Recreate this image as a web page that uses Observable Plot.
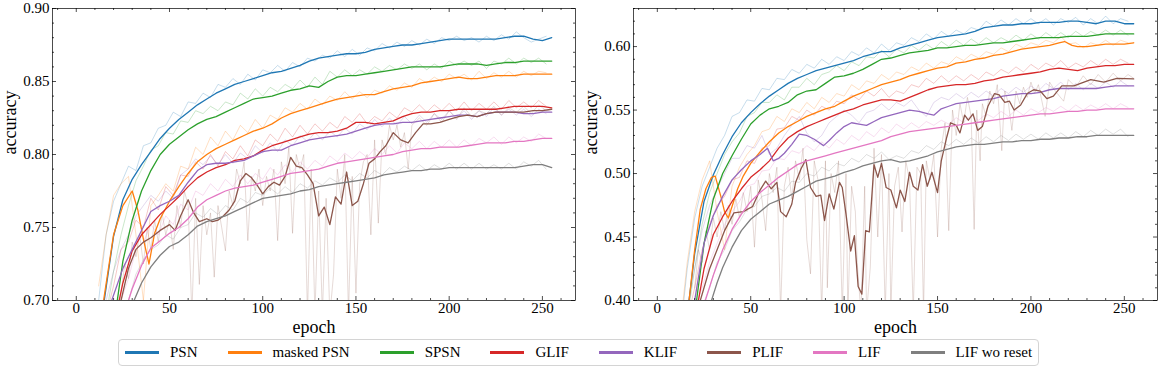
<!DOCTYPE html>
<html><head><meta charset="utf-8">
<script src="https://cdn.jsdelivr.net/npm/d3@7"></script>
<script src="https://cdn.jsdelivr.net/npm/@observablehq/plot@0.6"></script>
<style>
body{margin:0;background:#fff;font-family:serif;}
#wrap{position:relative;width:1160px;height:369px;overflow:hidden;}
#left{position:absolute;left:0;top:0}
#right{position:absolute;left:580px;top:0}
#legend{position:absolute;left:118px;top:339px;height:27px;border:1px solid #d4d4d4;border-radius:4px;display:flex;align-items:center;padding:0 6px;gap:30px;font-size:15px;font-family:serif;box-sizing:border-box;color:#000;white-space:nowrap}
.item{display:flex;align-items:center}
.sw{width:34px;height:3px;margin-right:11px}
</style></head>
<body><div id="wrap"><div id="left"></div><div id="right"></div><div id="legend"></div></div>
<script>
const seriesNames = ["PSN","masked PSN","SPSN","GLIF","KLIF","PLIF","LIF","LIF wo reset"];
const seriesColors = ["#1f77b4","#ff7f0e","#2ca02c","#d62728","#9467bd","#8c564b","#e377c2","#7f7f7f"];
const xMajor = [0,50,100,150,200,250];
const yMajorL = [0.70,0.75,0.80,0.85,0.90];
const yMajorR = [0.40,0.45,0.50,0.55,0.60];

// ---- left panel, smoothed curves [epoch, accuracy]
const psnL = [[10,0.655],[15,0.700],[20,0.744],[25,0.769],[30,0.783],[35,0.793],[40,0.802],[45,0.811],[50,0.818],[55,0.824],[60,0.829],[65,0.834],[70,0.838],[75,0.842],[80,0.845],[85,0.848],[90,0.850],[95,0.852],[100,0.854],[105,0.856],[110,0.857],[115,0.859],[120,0.861],[125,0.864],[130,0.866],[135,0.867],[140,0.868],[145,0.869],[150,0.869],[155,0.870],[160,0.872],[165,0.873],[170,0.874],[175,0.875],[180,0.875],[185,0.876],[190,0.877],[195,0.878],[200,0.879],[205,0.879],[210,0.879],[215,0.879],[220,0.879],[225,0.879],[230,0.880],[235,0.881],[240,0.881],[245,0.879],[250,0.878],[255,0.880]];
const maskedL = [[10,0.660],[15,0.703],[20,0.745],[25,0.765],[30,0.775],[33,0.762],[36,0.742],[39,0.725],[42,0.746],[45,0.756],[50,0.768],[55,0.778],[60,0.787],[65,0.795],[70,0.800],[75,0.804],[80,0.807],[85,0.810],[90,0.813],[95,0.816],[100,0.818],[105,0.821],[110,0.825],[115,0.828],[120,0.830],[125,0.832],[130,0.834],[135,0.836],[140,0.838],[145,0.839],[150,0.840],[155,0.841],[160,0.841],[165,0.843],[170,0.845],[175,0.846],[180,0.847],[185,0.849],[190,0.850],[195,0.851],[200,0.852],[205,0.853],[210,0.852],[215,0.852],[220,0.853],[225,0.854],[230,0.854],[235,0.854],[240,0.855],[245,0.855],[250,0.855],[255,0.855]];
const spsnL = [[15,0.660],[20,0.688],[22,0.700],[25,0.727],[30,0.755],[35,0.775],[40,0.789],[45,0.800],[50,0.807],[55,0.812],[60,0.817],[65,0.821],[70,0.824],[75,0.826],[80,0.829],[85,0.832],[90,0.835],[95,0.838],[100,0.839],[105,0.840],[110,0.842],[115,0.844],[120,0.845],[125,0.847],[130,0.846],[135,0.850],[140,0.853],[145,0.854],[150,0.854],[155,0.855],[160,0.856],[165,0.857],[170,0.858],[175,0.859],[180,0.860],[185,0.860],[190,0.860],[195,0.860],[200,0.861],[205,0.862],[210,0.862],[215,0.862],[220,0.861],[225,0.862],[230,0.863],[235,0.863],[240,0.864],[245,0.864],[250,0.864],[255,0.864]];
const glifL = [[15,0.660],[20,0.688],[23,0.700],[25,0.712],[30,0.734],[35,0.745],[40,0.752],[45,0.759],[50,0.765],[55,0.771],[60,0.778],[65,0.784],[70,0.788],[75,0.791],[80,0.793],[85,0.796],[90,0.797],[95,0.799],[100,0.803],[105,0.806],[110,0.808],[115,0.810],[120,0.812],[125,0.814],[130,0.815],[135,0.815],[140,0.816],[145,0.818],[150,0.822],[155,0.822],[160,0.821],[165,0.822],[170,0.823],[175,0.826],[180,0.828],[185,0.829],[190,0.829],[195,0.830],[200,0.830],[205,0.831],[210,0.831],[215,0.831],[220,0.831],[225,0.831],[230,0.832],[235,0.833],[240,0.833],[245,0.833],[250,0.833],[255,0.832]];
const klifL = [[15,0.670],[19,0.700],[25,0.722],[30,0.735],[35,0.748],[40,0.761],[45,0.765],[50,0.768],[55,0.772],[60,0.781],[65,0.789],[70,0.793],[75,0.794],[80,0.794],[85,0.795],[90,0.796],[95,0.799],[100,0.802],[105,0.803],[110,0.803],[115,0.806],[120,0.808],[125,0.810],[130,0.811],[135,0.812],[140,0.813],[145,0.814],[150,0.816],[155,0.818],[160,0.820],[165,0.821],[170,0.821],[175,0.822],[180,0.822],[185,0.823],[190,0.824],[195,0.825],[200,0.826],[205,0.827],[210,0.827],[215,0.826],[220,0.828],[225,0.829],[230,0.829],[235,0.829],[240,0.828],[245,0.828],[250,0.829],[255,0.829]];
const plifL = [[20,0.680],[24,0.700],[28,0.722],[32,0.735],[36,0.740],[40,0.743],[45,0.748],[50,0.752],[53,0.748],[56,0.758],[60,0.769],[63,0.760],[66,0.754],[70,0.756],[73,0.754],[76,0.755],[79,0.758],[82,0.762],[85,0.768],[88,0.782],[91,0.787],[94,0.784],[97,0.779],[100,0.773],[103,0.778],[106,0.781],[109,0.779],[112,0.785],[115,0.798],[118,0.792],[121,0.791],[124,0.786],[127,0.780],[130,0.758],[133,0.764],[136,0.752],[139,0.771],[142,0.766],[145,0.788],[148,0.765],[151,0.768],[154,0.780],[157,0.794],[160,0.797],[163,0.802],[166,0.806],[170,0.815],[174,0.810],[178,0.808],[182,0.815],[186,0.821],[190,0.821],[195,0.822],[200,0.824],[205,0.826],[210,0.827],[215,0.826],[220,0.828],[225,0.829],[230,0.829],[235,0.829],[240,0.829],[245,0.830],[250,0.830],[255,0.831]];
const lifL = [[22,0.670],[28,0.700],[30,0.708],[35,0.724],[40,0.736],[45,0.741],[50,0.746],[55,0.750],[60,0.756],[65,0.764],[70,0.769],[75,0.772],[80,0.775],[85,0.777],[90,0.778],[95,0.779],[100,0.781],[105,0.783],[110,0.785],[115,0.787],[120,0.788],[125,0.789],[130,0.790],[135,0.792],[140,0.794],[145,0.795],[150,0.796],[155,0.797],[160,0.798],[165,0.799],[170,0.800],[175,0.802],[180,0.803],[185,0.804],[190,0.804],[195,0.805],[200,0.805],[205,0.805],[210,0.806],[215,0.807],[220,0.808],[225,0.808],[230,0.808],[235,0.809],[240,0.809],[245,0.810],[250,0.811],[255,0.811]];
const woResetL = [[25,0.675],[31,0.700],[35,0.712],[40,0.723],[45,0.731],[50,0.737],[55,0.740],[60,0.745],[65,0.751],[70,0.754],[75,0.756],[80,0.758],[85,0.761],[90,0.764],[95,0.767],[100,0.770],[105,0.771],[110,0.772],[115,0.773],[120,0.775],[125,0.776],[130,0.778],[135,0.779],[140,0.780],[145,0.781],[150,0.782],[155,0.783],[160,0.784],[165,0.786],[170,0.787],[175,0.788],[180,0.789],[185,0.789],[190,0.790],[195,0.790],[200,0.791],[205,0.791],[210,0.791],[215,0.791],[220,0.791],[225,0.791],[230,0.791],[235,0.791],[240,0.792],[245,0.793],[250,0.793],[255,0.791]];

// ---- raw (unsmoothed) curves, read on a 4-epoch grid; null = not visible yet
const rawEpochs = [12,16,20,24,28,32,36,40,44,48,52,56,60,64,68,72,76,80,84,88,92,96,100,104,108,112,116,120,124,128,132,136,140,144,148,152,156,160,164,168,172,176,180,184,188,192,196,200,204,208,212,216,220,224,228,232,236,240,244,248,252];
const psnRawL = [0.700,0.745,0.768,0.780,0.792,0.789,0.806,0.808,0.818,0.820,0.829,0.826,0.836,0.835,0.842,0.839,0.848,0.846,0.852,0.848,0.855,0.851,0.858,0.856,0.861,0.857,0.863,0.860,0.866,0.864,0.868,0.866,0.871,0.867,0.872,0.868,0.873,0.871,0.876,0.873,0.877,0.874,0.878,0.875,0.879,0.876,0.880,0.878,0.881,0.878,0.880,0.877,0.881,0.878,0.882,0.879,0.884,0.880,0.877,0.879,0.881];
const maskedRawL = [0.710,0.745,0.772,0.780,0.785,0.745,0.700,0.765,0.772,0.780,0.775,0.792,0.790,0.805,0.800,0.812,0.806,0.816,0.810,0.820,0.815,0.824,0.818,0.827,0.824,0.832,0.829,0.835,0.831,0.838,0.834,0.840,0.837,0.843,0.838,0.843,0.839,0.844,0.842,0.847,0.844,0.849,0.846,0.852,0.849,0.853,0.850,0.855,0.852,0.855,0.851,0.857,0.852,0.856,0.853,0.857,0.853,0.857,0.854,0.857,0.856];
const spsnRawL = [null,0.690,0.720,0.745,0.765,0.782,0.792,0.803,0.806,0.815,0.814,0.823,0.822,0.830,0.828,0.833,0.830,0.836,0.834,0.842,0.838,0.845,0.840,0.846,0.843,0.848,0.845,0.851,0.846,0.853,0.848,0.857,0.853,0.858,0.854,0.858,0.855,0.860,0.857,0.861,0.858,0.862,0.859,0.862,0.858,0.862,0.859,0.864,0.861,0.864,0.861,0.864,0.859,0.864,0.862,0.866,0.862,0.866,0.863,0.866,0.862];
const glifRawL = [null,0.690,0.710,0.735,0.740,0.755,0.750,0.770,0.762,0.778,0.772,0.786,0.785,0.795,0.790,0.800,0.792,0.802,0.797,0.806,0.799,0.810,0.806,0.814,0.809,0.818,0.812,0.820,0.814,0.821,0.816,0.822,0.818,0.826,0.822,0.828,0.821,0.826,0.823,0.829,0.825,0.832,0.829,0.834,0.829,0.834,0.830,0.835,0.830,0.836,0.830,0.835,0.831,0.836,0.831,0.837,0.832,0.836,0.832,0.837,0.833];
const klifRawL = [null,0.700,0.720,0.735,0.745,0.758,0.765,0.772,0.768,0.775,0.770,0.786,0.790,0.797,0.793,0.799,0.793,0.800,0.794,0.801,0.797,0.806,0.801,0.808,0.802,0.810,0.806,0.813,0.809,0.815,0.810,0.816,0.812,0.818,0.814,0.821,0.817,0.824,0.819,0.825,0.820,0.826,0.821,0.827,0.822,0.828,0.824,0.830,0.825,0.830,0.824,0.830,0.826,0.832,0.827,0.831,0.827,0.831,0.826,0.831,0.828];
const lifRawL = [null,null,null,0.700,0.715,0.735,0.740,0.752,0.745,0.758,0.752,0.766,0.762,0.775,0.772,0.780,0.775,0.783,0.778,0.786,0.780,0.787,0.783,0.791,0.786,0.793,0.788,0.795,0.790,0.796,0.792,0.799,0.795,0.801,0.797,0.802,0.798,0.804,0.800,0.806,0.801,0.808,0.804,0.809,0.804,0.809,0.805,0.810,0.805,0.810,0.806,0.811,0.808,0.812,0.807,0.812,0.808,0.812,0.809,0.814,0.811];
const woResetRawL = [null,null,null,null,0.700,0.718,0.728,0.735,0.738,0.745,0.742,0.750,0.752,0.760,0.757,0.763,0.759,0.765,0.762,0.770,0.767,0.774,0.772,0.777,0.773,0.778,0.774,0.780,0.777,0.782,0.779,0.784,0.781,0.786,0.782,0.787,0.784,0.789,0.786,0.791,0.788,0.792,0.789,0.793,0.789,0.793,0.790,0.794,0.790,0.794,0.790,0.794,0.790,0.793,0.790,0.794,0.790,0.795,0.792,0.796,0.790];
// raw PLIF (left) with its deep drops, [epoch, accuracy]
const plifRawL = [[22,0.690],[24,0.705],[26,0.725],[28,0.715],[30,0.740],[32,0.730],[34,0.745],[36,0.725],[38,0.750],[40,0.735],[42,0.755],[44,0.740],[46,0.760],[48,0.745],[50,0.755],[52,0.735],[54,0.765],[56,0.750],[58,0.775],[60,0.765],[62,0.690],[64,0.770],[66,0.711],[68,0.765],[70,0.745],[72,0.760],[74,0.716],[76,0.765],[78,0.750],[80,0.734],[82,0.775],[84,0.765],[86,0.790],[88,0.780],[90,0.795],[92,0.741],[94,0.785],[96,0.775],[98,0.790],[100,0.765],[102,0.785],[104,0.775],[106,0.790],[108,0.741],[110,0.795],[112,0.780],[114,0.805],[116,0.746],[118,0.800],[120,0.790],[122,0.800],[124,0.690],[126,0.790],[128,0.690],[130,0.775],[132,0.690],[134,0.770],[136,0.690],[138,0.718],[140,0.790],[142,0.770],[144,0.800],[146,0.690],[148,0.785],[150,0.705],[152,0.780],[154,0.795],[156,0.800],[158,0.745],[160,0.810],[162,0.753],[164,0.810],[166,0.800],[168,0.820],[170,0.810],[172,0.820],[174,0.805],[176,0.815],[178,0.790],[180,0.820],[184,0.825],[188,0.820],[192,0.828],[196,0.822],[200,0.830],[204,0.824],[208,0.832],[212,0.826],[216,0.830],[220,0.828],[224,0.833],[228,0.827],[232,0.832],[236,0.829],[240,0.833],[244,0.828],[248,0.834],[252,0.830],[255,0.831]];

// ---- right panel, smoothed curves
const psnR = [[12,0.350],[17,0.400],[20,0.437],[25,0.478],[30,0.499],[35,0.515],[40,0.529],[45,0.540],[50,0.548],[55,0.555],[60,0.561],[65,0.566],[70,0.571],[75,0.575],[80,0.578],[85,0.581],[90,0.583],[95,0.585],[100,0.587],[105,0.589],[110,0.592],[115,0.594],[120,0.596],[125,0.596],[130,0.599],[135,0.601],[140,0.603],[145,0.605],[150,0.607],[155,0.608],[160,0.609],[165,0.610],[170,0.612],[175,0.615],[180,0.616],[185,0.617],[190,0.617],[195,0.618],[200,0.618],[205,0.619],[210,0.619],[215,0.619],[220,0.620],[225,0.620],[230,0.619],[235,0.618],[240,0.620],[245,0.620],[250,0.618],[255,0.618]];
const maskedR = [[12,0.350],[17,0.400],[20,0.440],[23,0.472],[26,0.488],[29,0.497],[31,0.498],[34,0.482],[36,0.470],[38,0.465],[40,0.474],[43,0.488],[46,0.498],[50,0.508],[55,0.517],[60,0.525],[65,0.532],[70,0.537],[75,0.541],[80,0.545],[85,0.548],[90,0.551],[95,0.553],[100,0.557],[105,0.561],[110,0.564],[115,0.567],[120,0.570],[125,0.572],[130,0.574],[135,0.577],[140,0.579],[145,0.581],[150,0.583],[155,0.584],[160,0.587],[165,0.588],[170,0.590],[175,0.591],[180,0.593],[185,0.594],[190,0.596],[195,0.598],[200,0.599],[205,0.600],[210,0.601],[215,0.603],[218,0.604],[222,0.601],[225,0.600],[230,0.600],[235,0.601],[240,0.602],[245,0.602],[250,0.602],[255,0.603]];
const spsnR = [[15,0.360],[21,0.400],[25,0.445],[30,0.480],[35,0.500],[40,0.514],[45,0.527],[50,0.539],[55,0.546],[60,0.551],[65,0.553],[70,0.556],[75,0.562],[80,0.565],[85,0.566],[90,0.571],[95,0.576],[100,0.577],[105,0.579],[110,0.582],[115,0.586],[120,0.590],[125,0.591],[130,0.593],[135,0.595],[140,0.596],[145,0.597],[150,0.599],[155,0.599],[160,0.600],[165,0.601],[170,0.601],[175,0.602],[180,0.603],[185,0.603],[190,0.604],[195,0.605],[200,0.606],[205,0.607],[210,0.607],[215,0.607],[220,0.608],[225,0.608],[230,0.608],[235,0.609],[240,0.610],[245,0.610],[250,0.610],[255,0.610]];
const glifR = [[15,0.360],[22,0.400],[25,0.425],[30,0.452],[35,0.466],[40,0.478],[45,0.488],[50,0.497],[55,0.503],[60,0.510],[65,0.520],[70,0.528],[75,0.533],[80,0.537],[85,0.540],[90,0.543],[95,0.546],[100,0.549],[105,0.551],[110,0.554],[115,0.556],[120,0.558],[125,0.558],[130,0.557],[135,0.560],[140,0.563],[145,0.566],[150,0.568],[155,0.569],[160,0.570],[165,0.570],[170,0.571],[175,0.573],[180,0.574],[185,0.576],[190,0.577],[195,0.578],[200,0.579],[205,0.580],[210,0.582],[215,0.583],[220,0.582],[225,0.581],[230,0.583],[235,0.584],[240,0.585],[245,0.585],[250,0.586],[255,0.586]];
const klifR = [[14,0.370],[20,0.400],[25,0.445],[30,0.467],[35,0.482],[40,0.495],[45,0.503],[50,0.510],[55,0.515],[59,0.520],[62,0.510],[65,0.512],[68,0.516],[72,0.523],[76,0.531],[80,0.530],[84,0.527],[89,0.522],[92,0.526],[96,0.532],[100,0.537],[104,0.540],[108,0.539],[112,0.538],[116,0.541],[120,0.544],[125,0.546],[130,0.548],[135,0.550],[140,0.549],[145,0.547],[148,0.546],[152,0.551],[156,0.553],[160,0.555],[165,0.556],[170,0.557],[175,0.558],[180,0.559],[185,0.561],[190,0.562],[195,0.563],[200,0.563],[205,0.564],[210,0.566],[215,0.567],[220,0.567],[225,0.567],[230,0.567],[235,0.567],[240,0.568],[245,0.569],[250,0.569],[255,0.569]];
const plifR = [[18,0.370],[23,0.400],[28,0.425],[32,0.440],[36,0.455],[41,0.469],[46,0.470],[51,0.474],[55,0.487],[58,0.494],[61,0.488],[64,0.493],[66,0.470],[69,0.466],[72,0.476],[74,0.493],[77,0.504],[79.5,0.511],[82,0.489],[85,0.482],[87.5,0.483],[89.5,0.463],[92,0.484],[94.5,0.472],[97.5,0.493],[99,0.489],[101,0.468],[103.5,0.439],[105.5,0.451],[107.5,0.411],[109.5,0.405],[111.5,0.455],[113.5,0.454],[116,0.507],[118,0.497],[120,0.508],[122.5,0.489],[125,0.487],[128,0.473],[130,0.487],[132.5,0.478],[135,0.501],[137,0.490],[139.5,0.487],[142,0.507],[144.5,0.490],[147,0.501],[150,0.485],[152,0.510],[155,0.529],[157,0.540],[160,0.538],[162,0.532],[164.5,0.546],[166.5,0.542],[169,0.547],[171.5,0.534],[174,0.537],[177,0.553],[180.5,0.563],[183,0.562],[186,0.556],[188.5,0.557],[191,0.550],[194.5,0.554],[198,0.563],[201.5,0.566],[205,0.565],[208.5,0.559],[212,0.561],[216.5,0.569],[223,0.569],[232,0.574],[239,0.572],[246,0.575],[255,0.5745]];
const lifR = [[18,0.370],[25.7,0.400],[30,0.420],[35,0.440],[40,0.456],[45,0.468],[50,0.478],[55,0.485],[60,0.491],[65,0.497],[70,0.502],[75,0.507],[80,0.510],[85,0.512],[90,0.514],[95,0.516],[100,0.518],[105,0.520],[110,0.522],[115,0.524],[120,0.526],[125,0.529],[130,0.531],[135,0.533],[140,0.534],[145,0.535],[150,0.536],[155,0.537],[160,0.538],[165,0.539],[170,0.540],[175,0.541],[180,0.542],[185,0.543],[190,0.544],[195,0.545],[200,0.546],[205,0.547],[210,0.547],[215,0.548],[220,0.549],[225,0.549],[230,0.550],[235,0.550],[240,0.551],[245,0.551],[250,0.551],[255,0.551]];
const woResetR = [[22,0.370],[29,0.400],[32,0.414],[35,0.426],[40,0.442],[45,0.455],[50,0.464],[55,0.470],[60,0.476],[65,0.479],[70,0.482],[75,0.486],[80,0.490],[85,0.494],[90,0.496],[95,0.498],[100,0.501],[105,0.503],[110,0.506],[115,0.508],[120,0.510],[125,0.511],[130,0.509],[135,0.510],[140,0.512],[145,0.514],[150,0.517],[155,0.519],[160,0.521],[165,0.522],[170,0.523],[175,0.523],[180,0.524],[185,0.525],[190,0.525],[195,0.526],[200,0.526],[205,0.527],[210,0.527],[215,0.528],[220,0.528],[225,0.529],[230,0.529],[235,0.530],[240,0.530],[245,0.530],[250,0.530],[255,0.530]];

// right panel raw curves (same 4-epoch grid)
const psnRawR = [0.370,0.425,0.465,0.490,0.505,0.520,0.530,0.545,0.548,0.558,0.557,0.567,0.566,0.575,0.574,0.582,0.579,0.586,0.583,0.590,0.586,0.592,0.589,0.596,0.593,0.599,0.595,0.602,0.597,0.603,0.601,0.607,0.604,0.610,0.606,0.612,0.608,0.613,0.610,0.615,0.613,0.620,0.616,0.621,0.617,0.622,0.618,0.622,0.618,0.622,0.617,0.622,0.619,0.623,0.617,0.622,0.618,0.624,0.618,0.622,0.620];
const maskedRawR = [0.375,0.430,0.470,0.495,0.510,0.470,0.440,0.490,0.505,0.515,0.522,0.533,0.535,0.545,0.541,0.551,0.548,0.556,0.551,0.560,0.556,0.563,0.561,0.570,0.566,0.573,0.571,0.578,0.574,0.580,0.578,0.584,0.581,0.587,0.583,0.588,0.586,0.592,0.589,0.594,0.591,0.596,0.594,0.599,0.596,0.602,0.599,0.603,0.601,0.605,0.603,0.608,0.602,0.603,0.599,0.603,0.601,0.605,0.601,0.605,0.603];
const spsnRawR = [null,0.385,0.425,0.460,0.485,0.500,0.515,0.525,0.532,0.545,0.548,0.556,0.556,0.562,0.558,0.568,0.568,0.575,0.570,0.578,0.580,0.585,0.581,0.588,0.585,0.592,0.591,0.597,0.592,0.598,0.595,0.601,0.597,0.602,0.598,0.604,0.600,0.605,0.601,0.606,0.602,0.607,0.603,0.607,0.604,0.609,0.605,0.610,0.606,0.611,0.607,0.611,0.607,0.612,0.608,0.612,0.609,0.613,0.609,0.613,0.609];
const glifRawR = [null,0.385,0.410,0.440,0.460,0.475,0.482,0.495,0.497,0.510,0.508,0.520,0.522,0.535,0.536,0.545,0.542,0.550,0.546,0.553,0.550,0.557,0.555,0.562,0.558,0.565,0.561,0.567,0.560,0.565,0.563,0.570,0.568,0.575,0.571,0.577,0.572,0.577,0.573,0.578,0.574,0.580,0.577,0.582,0.579,0.584,0.580,0.586,0.582,0.587,0.584,0.589,0.583,0.587,0.584,0.589,0.585,0.590,0.586,0.590,0.587];
const klifRawR = [null,0.395,0.425,0.455,0.475,0.488,0.500,0.512,0.512,0.522,0.520,0.530,0.515,0.520,0.530,0.538,0.545,0.532,0.525,0.530,0.540,0.545,0.550,0.546,0.540,0.548,0.550,0.555,0.550,0.556,0.553,0.558,0.550,0.545,0.556,0.560,0.558,0.563,0.559,0.564,0.560,0.565,0.561,0.567,0.563,0.568,0.564,0.569,0.565,0.571,0.567,0.572,0.566,0.571,0.566,0.571,0.567,0.572,0.568,0.573,0.569];
const lifRawR = [null,null,0.395,0.410,0.430,0.445,0.460,0.470,0.478,0.490,0.492,0.502,0.503,0.512,0.511,0.518,0.516,0.522,0.518,0.525,0.520,0.527,0.523,0.530,0.526,0.533,0.529,0.536,0.532,0.539,0.535,0.540,0.536,0.541,0.538,0.542,0.539,0.544,0.540,0.546,0.542,0.547,0.544,0.549,0.545,0.550,0.546,0.551,0.548,0.552,0.549,0.553,0.549,0.554,0.550,0.554,0.551,0.555,0.551,0.555,0.552];
const woResetRawR = [null,null,null,0.395,0.410,0.430,0.440,0.455,0.462,0.472,0.474,0.482,0.484,0.489,0.486,0.494,0.493,0.500,0.498,0.505,0.502,0.508,0.506,0.512,0.509,0.515,0.512,0.517,0.511,0.514,0.512,0.518,0.516,0.522,0.519,0.525,0.522,0.527,0.523,0.528,0.524,0.529,0.525,0.530,0.526,0.531,0.527,0.531,0.527,0.532,0.528,0.532,0.528,0.533,0.529,0.534,0.530,0.535,0.531,0.535,0.529];
// raw PLIF (right) with its deep drops, [epoch, accuracy]
const plifRawR = [[20,0.410],[22,0.440],[24,0.430],[26,0.455],[28,0.440],[30,0.465],[32,0.450],[34,0.470],[36,0.455],[38,0.475],[40,0.460],[42,0.480],[44,0.465],[46,0.485],[48,0.470],[50,0.490],[52,0.442],[54,0.495],[56,0.480],[58,0.455],[60,0.500],[62,0.485],[64,0.505],[66,0.390],[68,0.490],[70,0.505],[72,0.480],[74,0.510],[76,0.495],[78,0.520],[80,0.448],[82,0.421],[84,0.510],[86,0.495],[88,0.390],[90,0.510],[91,0.410],[93,0.500],[95,0.485],[97,0.510],[99,0.390],[101,0.500],[102,0.390],[104,0.490],[106,0.470],[107,0.430],[109,0.390],[111,0.490],[112,0.390],[114,0.426],[116,0.520],[118,0.450],[120,0.515],[122,0.390],[124,0.500],[125,0.390],[127,0.490],[129,0.505],[131,0.454],[133,0.510],[135,0.495],[137,0.390],[139,0.505],[141,0.500],[142.5,0.390],[144,0.510],[146,0.495],[148,0.515],[150,0.450],[152,0.520],[154,0.540],[156,0.455],[158,0.550],[160,0.530],[162,0.555],[164,0.540],[166,0.560],[168,0.545],[169.6,0.456],[171,0.550],[172.8,0.510],[174,0.555],[176,0.545],[178,0.565],[180,0.555],[182,0.570],[184.4,0.518],[186,0.565],[188,0.555],[189.8,0.534],[192,0.565],[194,0.555],[196,0.568],[198,0.560],[200,0.572],[202,0.563],[204,0.570],[207.6,0.545],[210,0.572],[213,0.565],[217.5,0.557],[220,0.574],[224,0.568],[228,0.577],[232,0.570],[236,0.578],[240,0.572],[244,0.579],[248,0.573],[252,0.578],[255,0.575]];

const smoothL = [psnL, maskedL, spsnL, glifL, klifL, plifL, lifL, woResetL];
const smoothR = [psnR, maskedR, spsnR, glifR, klifR, plifR, lifR, woResetR];
// raw curves in legend order; PLIF raw uses its own epochs
const rawL = [psnRawL, maskedRawL, spsnRawL, glifRawL, klifRawL, plifRawL, lifRawL, woResetRawL];
const rawR = [psnRawR, maskedRawR, spsnRawR, glifRawR, klifRawR, plifRawR, lifRawR, woResetRawR];

function toRows(pairs){ return pairs.map(([epoch, acc]) => ({epoch, acc})); }
function gridRows(vals){ return rawEpochs.map((epoch, i) => ({epoch, acc: vals[i] ?? null})); }

function panel(smooth, raw, yDomain, yMajor, mLeft, mRight){
  const W = 580, H = 340, mt = 8, mb = 40;
  const innerW = W - mLeft - mRight, innerH = H - mt - mb;
  const xMinor = d3.range(-10, 261, 10).filter(d => d % 50 !== 0);
  const yMinor = d3.range(Math.round(yDomain[0]*100), Math.round(yDomain[1]*100)+1).map(d => d/100).filter(d => Math.round(d*100) % 5 !== 0);
  const tick = {stroke: "#000", strokeWidth: 0.7};
  const marks = [];
  raw.forEach((r, i) => {
    const rows = Array.isArray(r[0]) ? toRows(r) : gridRows(r);
    marks.push(Plot.line(rows, {x: "epoch", y: "acc", stroke: seriesColors[i], strokeOpacity: i === 5 ? 0.22 : 0.25, strokeWidth: 1, clip: true}));
  });
  smooth.forEach((s, i) => {
    marks.push(Plot.line(toRows(s), {x: "epoch", y: "acc", stroke: seriesColors[i], strokeWidth: 1.3, clip: true}));
  });
  marks.push(
    Plot.frame({stroke: "#000", strokeWidth: 0.7}),
    Plot.tickX(xMajor, {x: d => d, insetTop: innerH - 4, ...tick}),
    Plot.tickX(xMajor, {x: d => d, insetBottom: innerH - 4, ...tick}),
    Plot.tickX(xMinor, {x: d => d, insetTop: innerH - 2, ...tick}),
    Plot.tickX(xMinor, {x: d => d, insetBottom: innerH - 2, ...tick}),
    Plot.tickY(yMajor, {y: d => d, insetRight: innerW - 4, ...tick}),
    Plot.tickY(yMajor, {y: d => d, insetLeft: innerW - 4, ...tick}),
    Plot.tickY(yMinor, {y: d => d, insetRight: innerW - 2, ...tick}),
    Plot.tickY(yMinor, {y: d => d, insetLeft: innerW - 2, ...tick}),
    Plot.axisX(xMajor, {anchor: "bottom", tickSize: 0, tickPadding: 2, label: null, fontVariant: "normal"}),
    Plot.axisY(yMajor, {anchor: "left", tickSize: 0, tickPadding: 3, tickFormat: d3.format(".2f"), label: null, fontVariant: "normal"}),
    Plot.text(["epoch"], {frameAnchor: "bottom", dy: 32, text: d => d, fontSize: 18}),
    Plot.text(["accuracy"], {frameAnchor: "left", dx: -42, rotate: -90, text: d => d, fontSize: 18})
  );
  return Plot.plot({
    width: W, height: H, marginLeft: mLeft, marginRight: mRight, marginTop: mt, marginBottom: mb,
    x: {domain: [-12.75, 267.75]},
    y: {domain: yDomain},
    style: {fontFamily: "serif", fontSize: "15px"},
    marks
  });
}

document.getElementById("left").appendChild(panel(smoothL, rawL, [0.70, 0.90], yMajorL, 52, 5));
document.getElementById("right").appendChild(panel(smoothR, rawR, [0.40, 0.63], yMajorR, 53, 3));

const legend = document.getElementById("legend");
seriesNames.forEach((name, i) => {
  const item = document.createElement("div");
  item.className = "item";
  const sw = document.createElement("span");
  sw.className = "sw";
  sw.style.background = seriesColors[i];
  const label = document.createElement("span");
  label.textContent = name;
  item.appendChild(sw); item.appendChild(label);
  legend.appendChild(item);
});
</script>
</body></html>
